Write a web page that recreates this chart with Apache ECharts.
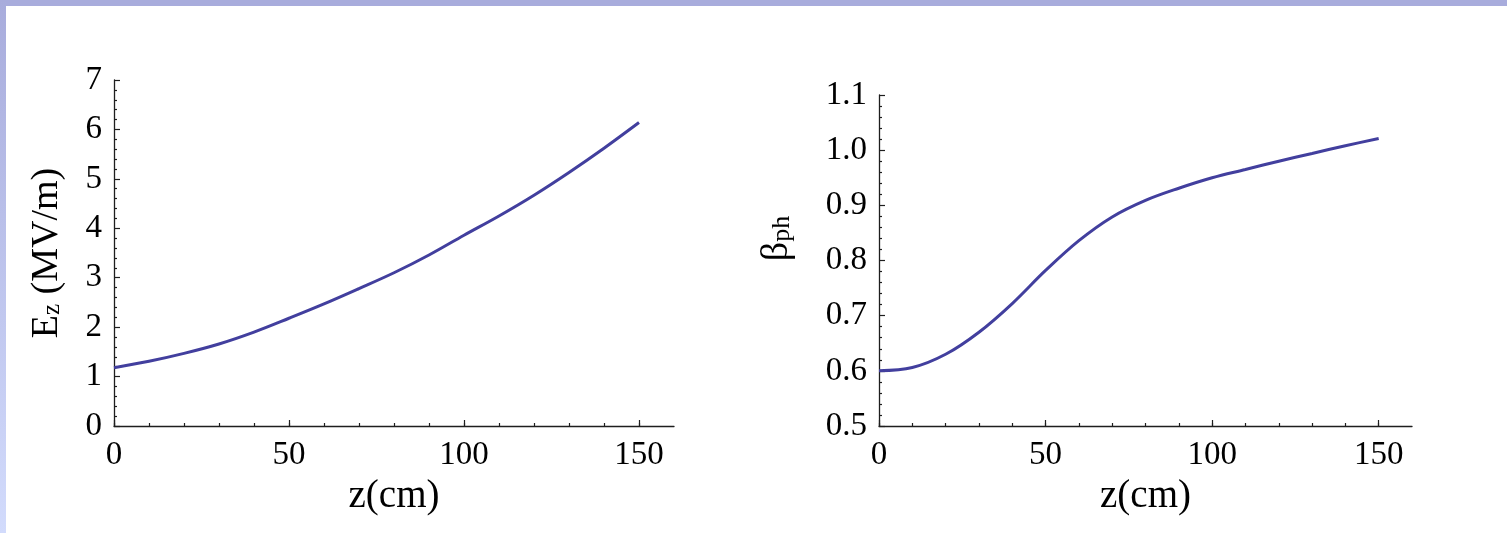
<!DOCTYPE html>
<html>
<head>
<meta charset="utf-8">
<script src="https://cdn.jsdelivr.net/npm/echarts@6/dist/echarts.min.js"></script>
<style>
html,body{margin:0;padding:0;background:#fff;}
#chart{width:1507px;height:533px;}
</style>
</head>
<body>
<div id="chart"></div>
<script>
// ---- data ----
const zCm = [0, 10, 20, 30, 40, 50, 60, 70, 80, 90, 100, 110, 120, 130, 140, 150];
const ezValues = [1.18, 1.31, 1.47, 1.66, 1.90, 2.18, 2.47, 2.78, 3.10, 3.46, 3.86, 4.25, 4.67, 5.13, 5.62, 6.14];
const betaValues = [0.600, 0.606, 0.630, 0.670, 0.722, 0.782, 0.836, 0.879, 0.909, 0.931, 0.950, 0.965, 0.980, 0.994, 1.008, 1.021];
const xMajorTicks = [0, 50, 100, 150];
const xMinorTicks = [0, 10, 20, 30, 40, 50, 60, 70, 80, 90, 100, 110, 120, 130, 140, 150];
const xTitle = 'z(cm)';

// ---- styling ----
const FONT = '"Liberation Serif", "Times New Roman", serif';
const AX = '#1e1e1e';
const LINE = '#423f9e';

function majorX(gridIndex) {
  return {
    type: 'value', gridIndex: gridIndex, min: 0, max: 160,
    name: xTitle, nameLocation: 'middle', nameGap: 47,
    nameTextStyle: {fontFamily: FONT, fontSize: 39, color: '#000'},
    axisLine: {show: true, lineStyle: {color: AX, width: 1.3}},
    axisTick: {show: true, inside: true, length: 6, customValues: xMajorTicks, lineStyle: {color: AX, width: 1.2}},
    axisLabel: {customValues: xMajorTicks, fontFamily: FONT, fontSize: 33, color: '#000', margin: 13},
    splitLine: {show: false}
  };
}
function minorX(gridIndex) {
  return {
    type: 'value', gridIndex: gridIndex, min: 0, max: 160, position: 'bottom',
    axisLine: {show: false},
    axisTick: {show: true, inside: true, length: 3, customValues: xMinorTicks, lineStyle: {color: AX, width: 1.2}},
    axisLabel: {show: false},
    splitLine: {show: false}
  };
}
function yAxis(gridIndex, min, max, interval, name, gap, rich, fmt, pad) {
  return {
    type: 'value', gridIndex: gridIndex, min: min, max: max, interval: interval,
    name: name, nameLocation: 'middle', nameGap: gap,
    nameTextStyle: {fontFamily: FONT, fontSize: 38, color: '#000', rich: rich, padding: pad},
    axisLine: {show: true, lineStyle: {color: AX, width: 1.3}},
    axisTick: {show: true, inside: true, length: 6, lineStyle: {color: AX, width: 1.2}},
    minorTick: {show: true, splitNumber: 5, length: 3, lineStyle: {color: AX, width: 1.2}},
    axisLabel: {fontFamily: FONT, fontSize: 33, color: '#000', margin: 12, formatter: fmt},
    splitLine: {show: false}, minorSplitLine: {show: false}
  };
}

const chart = echarts.init(document.getElementById('chart'), null, {renderer: 'canvas'});
const richE = {
  e: {fontFamily: FONT, fontSize: 38, color: '#000'},
  s: {fontFamily: FONT, fontSize: 25, color: '#000', padding: [10, 0, 0, 0]}
};
const richB = {
  b: {fontFamily: FONT, fontSize: 38, color: '#000'},
  s: {fontFamily: FONT, fontSize: 26, color: '#000', padding: [10, 0, 0, 0]}
};

chart.setOption({
  animation: false,
  backgroundColor: '#ffffff',
  graphic: [
    {type: 'rect', left: 0, top: 0, shape: {width: 1507, height: 6}, style: {fill: '#a8acdc'}, silent: true},
    {type: 'rect', left: 0, top: 0, shape: {width: 6, height: 533},
     style: {fill: new echarts.graphic.LinearGradient(0, 0, 0, 1, [{offset: 0, color: '#a8acdc'}, {offset: 1, color: '#d2dbfc'}])}, silent: true}
  ],
  grid: [
    {left: 114, top: 80, width: 560, height: 346},
    {left: 879, top: 95, width: 533, height: 331}
  ],
  xAxis: [majorX(0), minorX(0), majorX(1), minorX(1)],
  yAxis: [
    yAxis(0, 0, 7, 1, '{e|E}{s|z}{e| (MV/m)}', 48, richE, v => String(v), [0, 0, 0, 0]),
    yAxis(1, 0.5, 1.1, 0.1, '{b|β}{s|ph}', 83, richB, v => v.toFixed(1), [0, 0, 0, 44])
  ],
  series: [
    {type: 'line', xAxisIndex: 0, yAxisIndex: 0, data: zCm.map((z, i) => [z, ezValues[i]]),
     smooth: 0.35, showSymbol: false, lineStyle: {color: LINE, width: 3}},
    {type: 'line', xAxisIndex: 2, yAxisIndex: 1, data: zCm.map((z, i) => [z, betaValues[i]]),
     smooth: 0.35, showSymbol: false, lineStyle: {color: LINE, width: 3}}
  ]
});
</script>
</body>
</html>
